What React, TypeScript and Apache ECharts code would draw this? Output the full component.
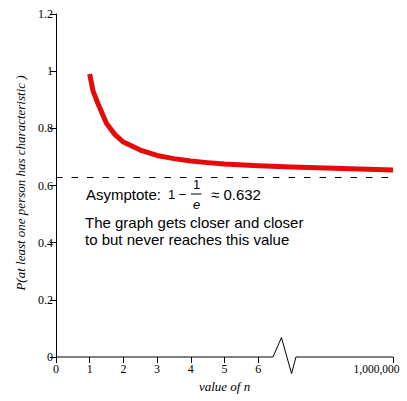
import React, { useEffect, useRef } from "react";
import * as echarts from "echarts";

// Curve: n (position on the axis) and probability
const nValues = [1, 1.1, 1.25, 1.5, 1.75, 2, 2.5, 3, 3.5, 4, 4.5, 5, 6, 7, 8, 9, 10];
const pValues = [0.99, 0.93, 0.885, 0.817, 0.778, 0.752, 0.724, 0.705, 0.694, 0.686, 0.68, 0.675, 0.669, 0.665, 0.661, 0.658, 0.654];

// Asymptote value
const asymptote = 0.632;

// X-axis tick positions and labels (broken axis: last tick stands for 1,000,000)
const xTickValues = [0, 1, 2, 3, 4, 5, 6, 10];
const xTickLabels = ["0", "1", "2", "3", "4", "5", "6", "1,000,000"];

// Y-axis ticks
const yTickValues = [0, 0.2, 0.4, 0.6, 0.8, 1, 1.2];

// Broken x-axis line (zig-zag break)
const axisLineX = [0, 6.44, 6.69, 6.99, 7.12, 10];
const axisLineY = [0, 0, 0.068, -0.058, 0, 0];

export default function App() {
  const ref = useRef<HTMLDivElement>(null);
  useEffect(() => {
    if (!ref.current) return;
    const chart = echarts.init(ref.current, undefined, { renderer: "svg" });
    const serif = '"Liberation Serif", "Times New Roman", serif';
    const sans = '"Liberation Sans", Arial, sans-serif';
    chart.setOption({
      animation: false,
      backgroundColor: "#ffffff",
      grid: { left: 56, right: 14, top: 14, bottom: 44, containLabel: false, outerBoundsMode: "none" },
      xAxis: {
        type: "value",
        min: 0,
        max: 10,
        name: "value of n",
        nameLocation: "middle",
        nameGap: 22,
        nameTextStyle: { fontFamily: serif, fontStyle: "italic", fontSize: 13, color: "#000" },
        axisLine: { show: false },
        axisTick: { show: true, length: 6, customValues: xTickValues, lineStyle: { color: "#000" } },
        axisLabel: {
          customValues: xTickValues,
          formatter: (v: number) => {
            const i = xTickValues.indexOf(v);
            if (i < 0) return "";
            return i === xTickValues.length - 1 ? `{big|${xTickLabels[i]}}` : xTickLabels[i];
          },
          rich: {
            big: { fontFamily: serif, fontSize: 11.5, color: "#000", padding: [0, 33, 0, 0] },
          },
          fontFamily: serif,
          fontSize: 12,
          color: "#000",
          margin: 6,
        },
        splitLine: { show: false },
      },
      yAxis: {
        type: "value",
        min: 0,
        max: 1.2,
        interval: 0.2,
        axisLine: { show: true, lineStyle: { color: "#000", width: 1 } },
        axisTick: { show: true, length: 6, lineStyle: { color: "#000" } },
        axisLabel: {
          fontFamily: serif,
          fontSize: 12,
          color: "#000",
          margin: 3,
          formatter: (v: number) => {
            const i = yTickValues.findIndex((t) => Math.abs(t - v) < 1e-9);
            return i >= 0 ? String(yTickValues[i]) : "";
          },
        },
        splitLine: { show: false },
      },
      series: [
        {
          type: "line",
          data: axisLineX.map((x, i) => [x, axisLineY[i]]),
          showSymbol: false,
          symbol: "none",
          clip: false,
          silent: true,
          lineStyle: { color: "#000", width: 1 },
          z: 1,
        },
        {
          type: "line",
          data: nValues.map((x, i) => [x, pValues[i]]),
          smooth: false,
          showSymbol: false,
          symbol: "none",
          lineStyle: { color: "#e60b0b", width: 5, join: "round" },
          z: 3,
          markLine: {
            silent: true,
            symbol: "none",
            label: { show: false },
            lineStyle: { color: "#000", width: 1, type: [6.5, 9] },
            data: [{ yAxis: asymptote }],
          },
        },
      ],
      graphic: [
        {
          type: "text",
          x: 20,
          y: 183,
          rotation: Math.PI / 2,
          style: {
            text: "P(at least one person has characteristic )",
            font: `italic 13px ${serif}`,
            fill: "#000",
            align: "center",
            verticalAlign: "middle",
          },
        },
        {
          type: "text",
          x: 86,
          y: 194,
          style: { text: "Asymptote:", font: `15px ${sans}`, fill: "#000", verticalAlign: "middle" },
        },
        {
          type: "text",
          x: 168,
          y: 194.5,
          style: { text: "1 −", font: `13px ${sans}`, fill: "#000", verticalAlign: "middle" },
        },
        {
          type: "text",
          x: 196.5,
          y: 184.5,
          style: { text: "1", font: `13px ${sans}`, fill: "#000", align: "center", verticalAlign: "middle" },
        },
        {
          type: "line",
          shape: { x1: 191, y1: 194, x2: 201.5, y2: 194 },
          style: { stroke: "#000", lineWidth: 1 },
        },
        {
          type: "text",
          x: 196.5,
          y: 204,
          style: { text: "e", font: `italic 13px ${sans}`, fill: "#000", align: "center", verticalAlign: "middle" },
        },
        {
          type: "text",
          x: 211,
          y: 194,
          style: { text: "≈ 0.632", font: `15px ${sans}`, fill: "#000", verticalAlign: "middle" },
        },
        {
          type: "text",
          x: 85,
          y: 222,
          style: { text: "The graph gets closer and closer", font: `15px ${sans}`, fill: "#000", verticalAlign: "middle" },
        },
        {
          type: "text",
          x: 85,
          y: 239,
          style: { text: "to but never reaches this value", font: `15px ${sans}`, fill: "#000", verticalAlign: "middle" },
        },
      ],
    });
    return () => chart.dispose();
  }, []);
  return (
    <div
      ref={ref}
      style={{ position: "fixed", left: 0, top: 0, width: 407, height: 401, background: "#fff" }}
    />
  );
}
